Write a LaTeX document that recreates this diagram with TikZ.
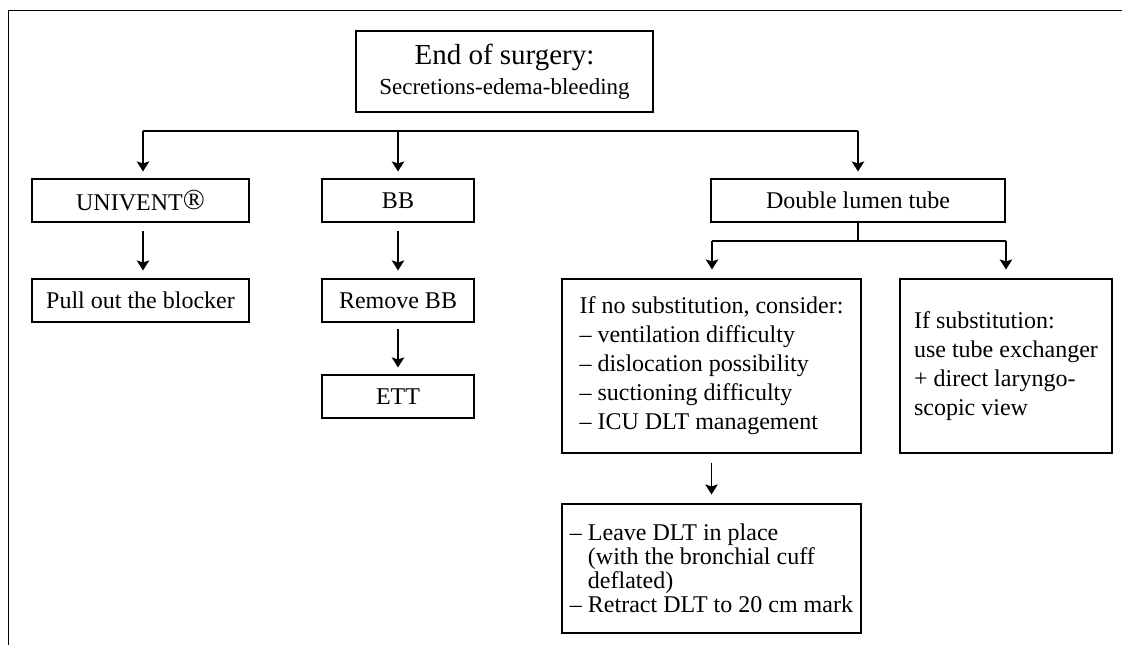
\documentclass[tikz,border=0pt]{standalone}
\usepackage{fontspec}
\setmainfont{Liberation Serif}
\usetikzlibrary{arrows.meta}
\begin{document}
\begin{tikzpicture}[x=1pt,y=-1pt,
  box/.style={draw, line width=1.1pt, inner sep=0pt, minimum height=43pt, font=\fontsize{24}{29}\selectfont, align=center},
  tall/.style={draw, line width=1.1pt, inner sep=0pt, align=left, minimum width=299pt, font=\fontsize{24}{29}\selectfont},
  arr/.style={line width=1.1pt, -{Stealth[length=10pt,width=12.5pt,inset=2pt]}},
  ln/.style={line width=1.1pt}]
\useasboundingbox (0,0) rectangle (1122,645);
% frame
\draw[line width=1.5pt] (8.5,645) -- (8.5,10.5) -- (1122,10.5);
% nodes
\node[box, minimum width=297pt, minimum height=81pt, font=\fontsize{23}{30}\selectfont] (top) at (504.5,71.5)
  {{\fontsize{29}{30}\selectfont End of surgery:}\\Secretions-edema-bleeding};
\node[box, minimum width=217pt] (univent) at (140.5,200.5) {UNIVENT\raisebox{0.5pt}{\fontsize{29}{29}\selectfont ®}};
\node[box, minimum width=217pt] (pull) at (140.5,300.5) {Pull out the blocker};
\node[box, minimum width=152pt] (bb) at (398,200.5) {BB};
\node[box, minimum width=152pt] (rbb) at (398,300.5) {Remove BB};
\node[box, minimum width=152pt] (ett) at (398,396.5) {ETT};
\node[box, minimum width=294pt] (dlt) at (858,200.5) {Double lumen tube};
\node[tall, minimum height=174pt] (nosub) at (711.5,366)
  {If no substitution, consider:\\– ventilation difficulty\\– dislocation possibility\\– suctioning difficulty\\– ICU DLT management};
\node[tall, minimum width=212pt, minimum height=174pt] (sub) at (1006,366)
  {If substitution:\\use tube exchanger\\+ direct laryngo-\\scopic view};
\node[tall, minimum height=129pt, font=\fontsize{24}{24}\selectfont] (leave) at (711.5,568.5)
  {– Leave DLT in place\\\hphantom{– }(with the bronchial cuff\\\hphantom{– }deflated)\\– Retract DLT to 20 cm mark};
% connectors
\coordinate (b1) at (143,131);
\coordinate (b2) at (398,131);
\coordinate (b3) at (858,131);
\draw[ln] (b1) -- (b3);
\draw[arr, shorten >=7pt] (b1) -- (b1 |- univent.north);
\draw[arr, shorten >=7pt] (b2) -- (b2 |- bb.north);
\draw[arr, shorten >=7pt] (b3) -- (b3 |- dlt.north);
\draw[arr, shorten <=8pt, shorten >=8pt] (b1 |- univent.south) -- (b1 |- pull.north);
\draw[arr, shorten <=8pt, shorten >=8pt] (bb) -- (rbb);
\draw[arr, shorten <=6pt, shorten >=7pt] (rbb) -- (ett);
\coordinate (s1) at (712,241);
\coordinate (s2) at (1006,241);
\draw[ln] (dlt.south) -- (dlt.south |- s1);
\draw[ln] (s1) -- (s2);
\draw[arr, shorten >=9pt] (s1) -- (s1 |- nosub.north);
\draw[arr, shorten >=9pt] (s2) -- (s2 |- sub.north);
\draw[arr, shorten <=9pt, shorten >=9pt] (nosub) -- (leave);
\end{tikzpicture}
\end{document}
